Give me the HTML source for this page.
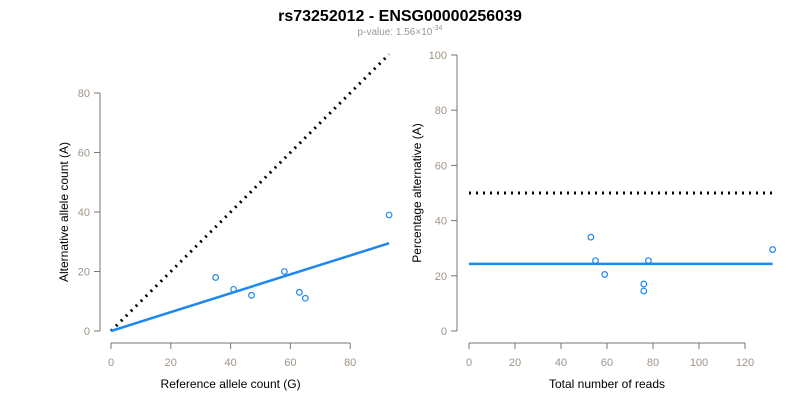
<!DOCTYPE html>
<html><head><meta charset="utf-8"><style>
body{margin:0;background:#fff;width:800px;height:400px;overflow:hidden;font-family:"Liberation Sans",Arial,sans-serif}
</style></head><body>
<svg id="c" width="800" height="400" font-family="Liberation Sans, Arial, sans-serif">
<text x="400" y="21" text-anchor="middle" font-size="16" font-weight="bold">rs73252012 - ENSG00000256039</text>
<text x="400" y="35" text-anchor="middle" font-size="10" fill="#999">p-value: 1.56×10<tspan dy="-5" font-size="7">-34</tspan></text>
</svg>
<script>
const leftRef=[35,41,47,58,63,65,93];
const leftAlt=[18,14,12,20,13,11,39];
const leftFitEnd=[93,29.5];
const leftXTicks=[0,20,40,60,80];
const leftYTicks=[0,20,40,60,80];
const rightTotal=[53,55,59,76,76,78,132];
const rightPct=[34,25.5,20.5,17,14.5,25.5,29.5];
const rightFit=24.3;
const rightNull=50;
const rightXTicks=[0,20,40,60,80,100,120];
const rightYTicks=[0,20,40,60,80,100];
const svg=document.getElementById('c');
const NS='http://www.w3.org/2000/svg';
function mk(t,a,parent){const e=document.createElementNS(NS,t);for(const k in a)e.setAttribute(k,a[k]);(parent||svg).appendChild(e);return e;}
function panel(o){
  const g=mk('g',{});
  
  
  const sx=v=>o.x0+(v)*o.kx, sy=v=>o.y0-v*o.ky;
  const ax=mk('line',{x1:sx(o.xt[0]),x2:sx(o.xt[o.xt.length-1]),y1:343,y2:343,stroke:'#777'},g);
  
  
  o.xt.forEach(t=>{mk('line',{x1:sx(t),x2:sx(t),y1:343,y2:349,stroke:'#777'},g);
    const l=mk('text',{x:sx(t),y:366,'text-anchor':'middle','font-size':11,fill:'#a09488'},g);l.textContent=t;
    
    });
  const ay=mk('line',{x1:o.ax,x2:o.ax,y1:sy(o.yt[0]),y2:sy(o.yt[o.yt.length-1]),stroke:'#777'},g);
  
  
  o.yt.forEach(t=>{mk('line',{x1:o.ax-6,x2:o.ax,y1:sy(t),y2:sy(t),stroke:'#777'},g);
    const l=mk('text',{x:o.ax-10,y:sy(t)+4,'text-anchor':'end','font-size':11,fill:'#a09488'},g);l.textContent=t;
    
    });
  const xl=mk('text',{x:(sx(o.xt[0])+sx(o.xt[o.xt.length-1]))/2,y:388,'text-anchor':'middle','font-size':12},g);xl.textContent=o.xlab;
  
  
  const cy=(sy(o.yt[0])+sy(o.yt[o.yt.length-1]))/2;
  const yl=mk('text',{x:o.ylx,y:cy,'text-anchor':'middle','font-size':12,transform:`rotate(-90 ${o.ylx} ${cy})`},g);yl.textContent=o.ylab;
  
  
  const d=mk('line',{x1:sx(o.dot[0]),y1:sy(o.dot[1]),x2:sx(o.dot[2]),y2:sy(o.dot[3]),stroke:'#000','stroke-width':3,'stroke-dasharray':'2 5'},g);
  
  
  const f=mk('line',{x1:sx(o.fit[0]),y1:sy(o.fit[1]),x2:sx(o.fit[2]),y2:sy(o.fit[3]),stroke:'#1e88f0','stroke-width':2.5},g);
  
  
  o.px.forEach((v,i)=>{const p=mk('circle',{cx:sx(v),cy:sy(o.py[i]),r:2.8,fill:'none',stroke:'#1e88f0','stroke-width':1.2},g);
    
    });
}
panel({name:'allele-count-panel',x0:111,kx:2.99,y0:331,ky:2.975,ax:100,ylx:68,xt:leftXTicks,yt:leftYTicks,
  xlab:'Reference allele count (G)',ylab:'Alternative allele count (A)',
  dot:[0,0,leftRef[leftRef.length-1],leftRef[leftRef.length-1]],fit:[0,0,leftFitEnd[0],leftFitEnd[1]],px:leftRef,py:leftAlt});
const xmax=Math.max(...rightTotal);
panel({name:'percentage-panel',x0:469,kx:2.3,y0:331,ky:2.76,ax:457,ylx:421,xt:rightXTicks,yt:rightYTicks,
  xlab:'Total number of reads',ylab:'Percentage alternative (A)',
  dot:[0,rightNull,xmax,rightNull],fit:[0,rightFit,xmax,rightFit],px:rightTotal,py:rightPct});
</script>
</body></html>
